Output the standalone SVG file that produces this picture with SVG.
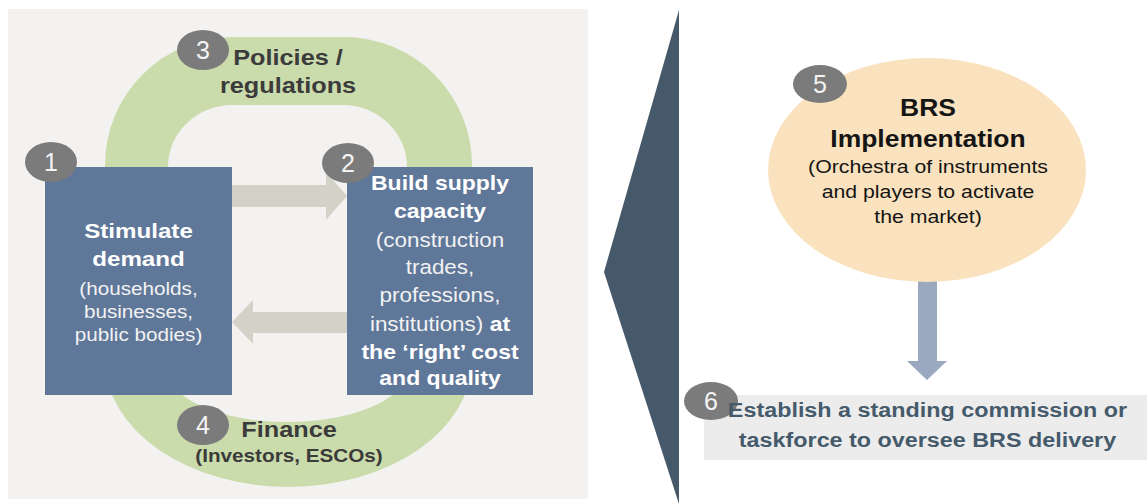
<svg xmlns="http://www.w3.org/2000/svg" width="1147" height="504" viewBox="0 0 1147 504">
<style>
.bg{fill:#f3f2f0}
.ring{fill:#cbdcac;fill-rule:evenodd}
.box{fill:#5f7799}
.badge{fill:#7b7b7b}
.num{font-family:"Liberation Sans",Arial,sans-serif;font-size:25px;fill:#f4f4f4;text-anchor:middle}
.wb{font-family:"Liberation Sans",Arial,sans-serif;font-weight:bold;fill:#ffffff;text-anchor:middle}
.wr{font-family:"Liberation Sans",Arial,sans-serif;fill:#f2f2f2;text-anchor:middle}
.gb{font-family:"Liberation Sans",Arial,sans-serif;font-weight:bold;fill:#3b3b3b;text-anchor:middle}
.kb{font-family:"Liberation Sans",Arial,sans-serif;font-weight:bold;fill:#151515;text-anchor:middle}
.kr{font-family:"Liberation Sans",Arial,sans-serif;fill:#151515;text-anchor:middle}
.sb{font-family:"Liberation Sans",Arial,sans-serif;font-weight:bold;fill:#455a6b;text-anchor:middle}
.arr{fill:#d3d2c9}
.arrd{fill:#9aa9c0}
</style>
<rect width="1147" height="504" fill="#ffffff"/>
<rect class="bg" x="8" y="9" width="580" height="490"/>
<g id="ring">
<path class="ring" d="M105,360 L105,165 A128,128 0 0 1 233,37 L344,37 A128,128 0 0 1 472,165 L472,360 A183.5,127 0 0 1 105,360 Z M168,370 L168,167 A64,62 0 0 1 232,105 L343,105 A64,62 0 0 1 407,167 L407,370 A119.5,52 0 0 1 168,370 Z"/>
</g>
<g id="connectors">
<polygon class="arr" points="232,185 326,185 326,172 347,196 326,220 326,207 232,207"/>
<polygon class="arr" points="347,312 253,312 253,300 232,322 253,344 253,333 347,333"/>
<polygon class="arrd" points="918,280 937,280 937,361 947,361 927,380 907,361 918,361"/>
</g>
<g id="node1">
<rect class="box" x="45" y="167" width="187" height="228"/>
<ellipse class="badge" cx="51" cy="162" rx="26" ry="20"/>
<text class="num" x="51" y="171">1</text>
<g transform="translate(138.5 0) scale(1.15 1)">
<text class="wb" y="238" font-size="21">Stimulate</text>
<text class="wb" y="266" font-size="21">demand</text>
<text class="wr" y="295" font-size="18">(households,</text>
<text class="wr" y="318" font-size="18">businesses,</text>
<text class="wr" y="341" font-size="18">public bodies)</text>
</g>
</g>
<g id="node2">
<rect class="box" x="347" y="167" width="186" height="228"/>
<ellipse class="badge" cx="348" cy="163" rx="26" ry="20"/>
<text class="num" x="348" y="172">2</text>
<g transform="translate(440 0) scale(1.15 1)">
<text class="wb" y="190" font-size="20">Build supply</text>
<text class="wb" y="218" font-size="20">capacity</text>
<text class="wr" y="247" font-size="19.5">(construction</text>
<text class="wr" y="274" font-size="19.5">trades,</text>
<text class="wr" y="302" font-size="19.5">professions,</text>
<text class="wr" y="331" font-size="19.5">institutions)<tspan font-weight="bold" font-size="20" fill="#ffffff"> at</tspan></text>
<text class="wb" y="359" font-size="20">the ‘right’ cost</text>
<text class="wb" y="385" font-size="20">and quality</text>
</g>
</g>
<g id="node3">
<ellipse class="badge" cx="203" cy="50" rx="26" ry="20"/>
<text class="num" x="203" y="59">3</text>
<g transform="translate(288 0) scale(1.15 1)">
<text class="gb" y="65" font-size="22">Policies /</text>
<text class="gb" y="93" font-size="22">regulations</text>
</g>
</g>
<g id="node4">
<ellipse class="badge" cx="203" cy="425" rx="26" ry="20"/>
<text class="num" x="203" y="434">4</text>
<g transform="translate(289 0) scale(1.15 1)">
<text class="gb" y="437" font-size="22">Finance</text>
<text class="gb" y="462" font-size="18">(Investors, ESCOs)</text>
</g>
</g>
<g id="chevron">
<polygon points="679,10 604,272 679,504" fill="#46596a"/>
</g>
<g id="node5">
<ellipse cx="927" cy="170" rx="159" ry="112" fill="#f9e2bd"/>
<ellipse class="badge" cx="820" cy="84" rx="27" ry="19"/>
<text class="num" x="820" y="93">5</text>
<g transform="translate(928 0) scale(1.15 1)">
<text class="kb" y="116" font-size="23">BRS</text>
<text class="kb" y="147" font-size="23">Implementation</text>
<text class="kr" y="173" font-size="18.5">(Orchestra of instruments</text>
<text class="kr" y="198" font-size="18.5">and players to activate</text>
<text class="kr" y="223" font-size="18.5">the market)</text>
</g>
</g>
<g id="node6">
<rect x="704" y="395" width="443" height="65" fill="#ececec"/>
<ellipse class="badge" cx="711" cy="401" rx="27" ry="19"/>
<text class="num" x="711" y="410">6</text>
<g transform="translate(927.5 0) scale(1.15 1)">
<text class="sb" y="417" font-size="20.3">Establish a standing commission or</text>
<text class="sb" y="447" font-size="20.3">taskforce to oversee BRS delivery</text>
</g>
</g>
</svg>
